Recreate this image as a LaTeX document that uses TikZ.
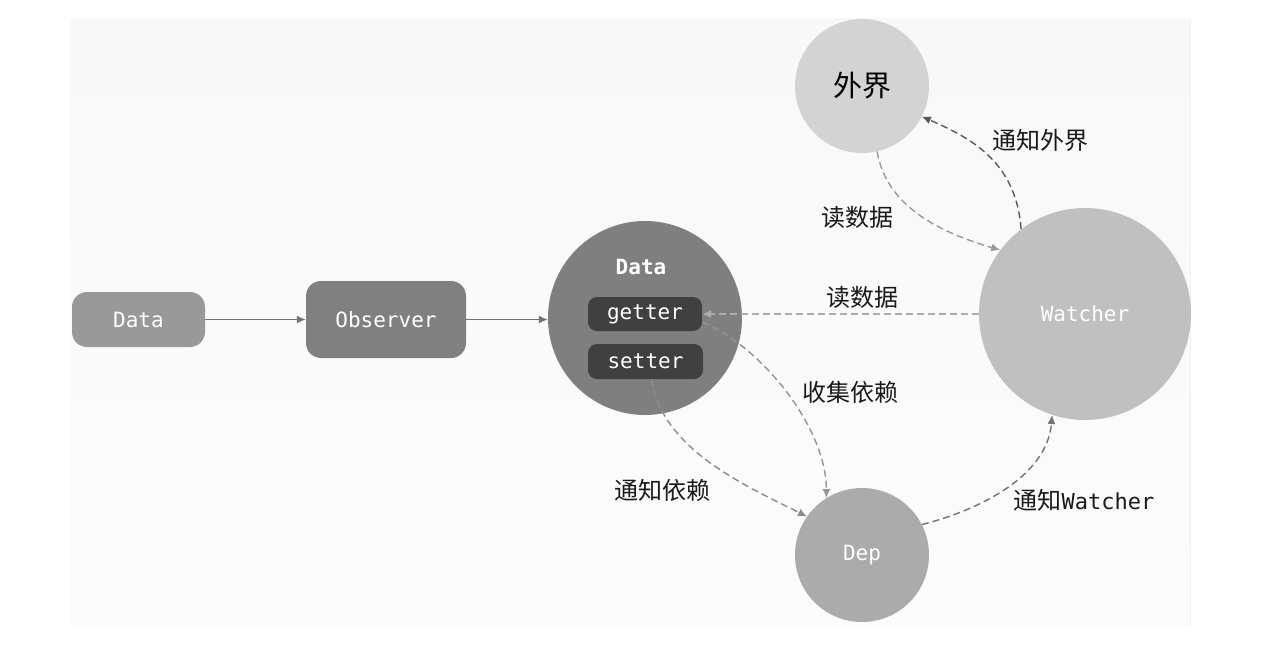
\documentclass[tikz,border=0pt]{standalone}
\usepackage{fontspec}
\setmonofont{DejaVu Sans Mono}
\newfontfamily\cjk{Noto Sans CJK SC}
\usetikzlibrary{arrows.meta}
\definecolor{bgtop}{HTML}{F8F8F8}
\definecolor{bgbot}{HTML}{FCFCFC}
\definecolor{cdata}{HTML}{999999}
\definecolor{cobs}{HTML}{808080}
\definecolor{ccirc}{HTML}{7F7F7F}
\definecolor{cdark}{HTML}{404040}
\definecolor{cwai}{HTML}{D3D3D3}
\definecolor{cwat}{HTML}{C0C0C0}
\definecolor{cdep}{HTML}{ABABAB}
\tikzset{
  monotext/.style={font=\ttfamily\fontsize{21}{25}\selectfont, text=white},
  rbox/.style={rounded corners=15pt, inner sep=0pt, monotext},
  gsbox/.style={rounded corners=9pt, inner sep=0pt, fill=cdark, minimum width=114pt, minimum height=34pt, monotext},
  bigcirc/.style={circle, inner sep=0pt},
  lbl/.style={font=\cjk\fontsize{24}{28}\selectfont, text=black!90},
  solidarrow/.style={draw=black!55, line width=1.4pt, -{Latex[length=9pt,width=8pt]}},
  dasharrow/.style={line width=1.4pt, dash pattern=on 7pt off 4pt, -{Latex[length=9pt,width=8pt]}},
}
\begin{document}
\begin{tikzpicture}[x=1pt,y=-1pt]
\useasboundingbox (0,0) rectangle (1272,654);
\shade[top color=bgtop, bottom color=bgbot] (70,18) rectangle (1190,625);
\draw[white!94!black, line width=0.6pt] (1190,18) -- (1190,625);

\node[rbox, fill=cdata, minimum width=133pt, minimum height=55pt] (data) at (138.5,319.5) {Data};
\node[rbox, fill=cobs, minimum width=160pt, minimum height=77pt] (obs) at (386,319.5) {Observer};
\node[bigcirc, fill=ccirc, minimum size=194pt] (datac) at (645,318) {};
\node[monotext, font=\ttfamily\bfseries\fontsize{21}{25}\selectfont] (dtitle) at (641,267) {Data};
\node[gsbox] (getter) at (645,314) {getter};
\node[gsbox, minimum width=115pt, minimum height=35pt] (setter) at (645.5,361.5) {setter};
\node[bigcirc, fill=cwai, minimum size=134pt, font=\cjk\fontsize{29}{33}\selectfont, text=black] (waijie) at (862,86) {外界};
\node[bigcirc, fill=cwat, minimum size=212pt, monotext] (watcher) at (1085,314) {Watcher};
\node[bigcirc, fill=cdep, minimum size=134pt, monotext] (dep) at (862,555) {Dep};

\draw[solidarrow] (data.east) -- (obs.west);
\draw[solidarrow] (obs.east) -- (obs.east -| datac.west);

\draw[dasharrow, draw=black!33] (watcher.west) -- (getter.east);
\node[lbl] (l1) at (862,297) {读数据};

\draw[dasharrow, draw=black!40] (waijie.-77) .. controls +(10,60) and +(-50,-15) .. (watcher.143);
\node[lbl] (l2) at (857,217) {读数据};

\draw[dasharrow, draw=black!65] (watcher.127) .. controls +(-5,-70) and +(45,20) .. (waijie.-27);
\node[lbl] (l3) at (1040,140) {通知外界};

\draw[dasharrow, draw=black!42] ([yshift=-8pt]getter.east) .. controls +(60,25) and +(0,-70) .. (dep.122);
\node[lbl] (l4) at (850,392) {收集依赖};

\draw[dasharrow, draw=black!45] ([xshift=6pt]setter.south) .. controls +(10,70) and +(-60,-30) .. (dep.145);
\node[lbl] (l5) at (662,490) {通知依赖};

\draw[dasharrow, draw=black!55] (dep.27) .. controls +(60,-15) and +(-5,60) .. (watcher.-108);
\node[lbl, anchor=west] (l6) at (1010,500) {通知{\ttfamily\fontsize{22}{26}\selectfont Watcher}};
\end{tikzpicture}
\end{document}
